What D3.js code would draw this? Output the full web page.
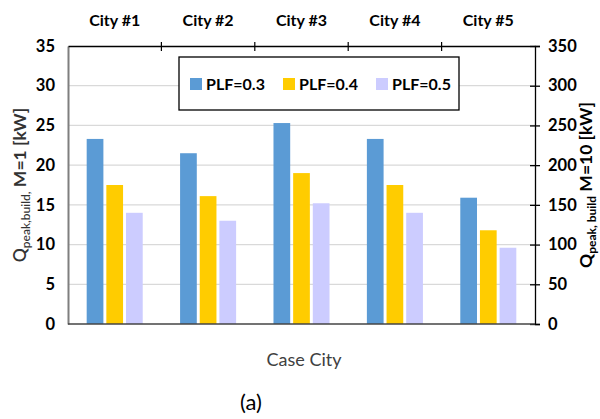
<!DOCTYPE html>
<html>
<head>
<meta charset="utf-8">
<script src="https://cdn.jsdelivr.net/npm/d3@7"></script>
<style>
  body { margin: 0; background: #fff; }
  text { font-family: Lato, "Open Sans", sans-serif; }
</style>
</head>
<body>
<div id="chart"></div>
<script>
/* DATA */
const cities = ["City #1", "City #2", "City #3", "City #4", "City #5"];
const seriesNames = ["PLF=0.3", "PLF=0.4", "PLF=0.5"];
const plf03 = [23.3, 21.5, 25.3, 23.3, 15.9];
const plf04 = [17.5, 16.1, 19.0, 17.5, 11.8];
const plf05 = [14.0, 13.0, 15.2, 14.0, 9.6];
const leftTicks = [0, 5, 10, 15, 20, 25, 30, 35];
const rightTicks = [0, 50, 100, 150, 200, 250, 300, 350];

const colors = ["#5B9BD5", "#FFCC00", "#CCCCFF"];

const width = 600, height = 419,
  margin = { top: 46, bottom: 95, left: 68, right: 65 };

const svg = d3.select("#chart").append("svg")
  .attr("width", width)
  .attr("height", height);

const x = d3.scaleBand()
  .domain(cities)
  .range([margin.left, width - margin.right]);

const xInner = d3.scaleBand()
  .domain(seriesNames)
  .range([0, x.bandwidth()])
  .paddingInner(0.15)
  .paddingOuter(0.95);

const yLeft = d3.scaleLinear().domain([0, 35]).range([height - margin.bottom, margin.top]);
const yRight = d3.scaleLinear().domain([0, 350]).range([height - margin.bottom, margin.top]);

// gridlines
svg.append("g")
  .selectAll("line")
  .data(leftTicks.filter(d => d > 0 && d < 35))
  .join("line")
  .attr("x1", margin.left)
  .attr("x2", width - margin.right)
  .attr("y1", d => yLeft(d))
  .attr("y2", d => yLeft(d))
  .attr("stroke", "#D9D9D9")
  .attr("stroke-width", 1.2);

// bars
const table = cities.map((c, i) => ({ city: c, values: [plf03[i], plf04[i], plf05[i]] }));
svg.append("g")
  .selectAll("g")
  .data(table)
  .join("g")
  .attr("transform", d => `translate(${x(d.city)},0)`)
  .selectAll("rect")
  .data(d => d.values.map((v, j) => ({ key: seriesNames[j], value: v, j })))
  .join("rect")
  .attr("x", d => xInner(d.key))
  .attr("width", xInner.bandwidth())
  .attr("y", d => yLeft(d.value))
  .attr("height", d => yLeft(0) - yLeft(d.value))
  .attr("fill", d => colors[d.j]);

// left axis
const leftAxis = svg.append("g")
  .attr("transform", `translate(${margin.left},0)`)
  .call(d3.axisLeft(yLeft).tickValues(leftTicks).tickSize(0).tickPadding(13));
leftAxis.select(".domain").attr("stroke", "#7f7f7f").attr("stroke-width", 2);
leftAxis.selectAll("text").attr("font-size", 16.5).attr("font-weight", "bold").attr("fill", "#000");

// right axis
const rightAxis = svg.append("g")
  .attr("transform", `translate(${width - margin.right},0)`)
  .call(d3.axisRight(yRight).tickValues(rightTicks).tickSize(5).tickPadding(8));
rightAxis.select(".domain").attr("stroke", "#000").attr("stroke-width", 1.3);
rightAxis.selectAll(".tick line").attr("x1", -5).attr("stroke", "#000").attr("stroke-width", 1.3);
rightAxis.selectAll("text").attr("font-size", 16.5).attr("font-weight", "bold").attr("fill", "#000");

// bottom axis line
svg.append("line")
  .attr("x1", margin.left).attr("x2", width - margin.right)
  .attr("y1", yLeft(0)).attr("y2", yLeft(0))
  .attr("stroke", "#444").attr("stroke-width", 1.5);

// top axis with city labels
const topAxis = svg.append("g")
  .attr("transform", `translate(0,${margin.top})`)
  .call(d3.axisTop(x).tickSize(0).tickPadding(20));
topAxis.select(".domain").attr("stroke", "#000").attr("stroke-width", 1.5);
topAxis.selectAll("text").attr("font-size", 16).attr("font-weight", "bold").attr("fill", "#000");
svg.append("g")
  .selectAll("line")
  .data(cities.slice(1))
  .join("line")
  .attr("x1", d => x(d)).attr("x2", d => x(d))
  .attr("y1", margin.top - 4).attr("y2", margin.top + 5)
  .attr("stroke", "#000").attr("stroke-width", 1.2);

// legend
const legend = svg.append("g").attr("transform", "translate(179,57)");
legend.append("rect")
  .attr("width", 280).attr("height", 53)
  .attr("fill", "#fff").attr("stroke", "#000").attr("stroke-width", 1.3);
const legendX = [11, 104, 197];
seriesNames.forEach((s, i) => {
  legend.append("rect")
    .attr("x", legendX[i]).attr("y", 21)
    .attr("width", 12).attr("height", 12)
    .attr("fill", colors[i]);
  legend.append("text")
    .attr("x", legendX[i] + 16).attr("y", 33)
    .attr("font-size", 16).attr("font-weight", "bold")
    .text(s);
});

// left title
const leftTitle = svg.append("text")
  .attr("transform", `translate(26,${(margin.top + yLeft(0)) / 2}) rotate(-90)`)
  .attr("text-anchor", "middle")
  .attr("font-size", 17.5)
  .attr("font-weight", 600)
  .attr("fill", "#333");
leftTitle.append("tspan").text("Q");
leftTitle.append("tspan").attr("font-size", 12).attr("font-weight", 500).attr("dy", 4).text("peak,build,");
leftTitle.append("tspan").attr("dy", -4).attr("font-weight", "bold").text(" M=1 [kW]");

// right title
const rightTitle = svg.append("text")
  .attr("transform", `translate(592,${(margin.top + yLeft(0)) / 2}) rotate(-90)`)
  .attr("text-anchor", "middle")
  .attr("font-size", 17.5)
  .attr("font-weight", "bold")
  .attr("fill", "#000");
rightTitle.append("tspan").text("Q");
rightTitle.append("tspan").attr("font-size", 12).attr("dy", 4).text("peak, build");
rightTitle.append("tspan").attr("dy", -4).text(" M=10 [kW]");

// x title
svg.append("text")
  .attr("x", 304)
  .attr("y", 366)
  .attr("text-anchor", "middle")
  .attr("font-size", 18)
  .attr("fill", "#404040")
  .text("Case City");

svg.append("text")
  .attr("x", 251)
  .attr("y", 410)
  .attr("text-anchor", "middle")
  .attr("font-size", 22)
  .attr("fill", "#000")
  .text("(a)");
</script>
</body>
</html>
